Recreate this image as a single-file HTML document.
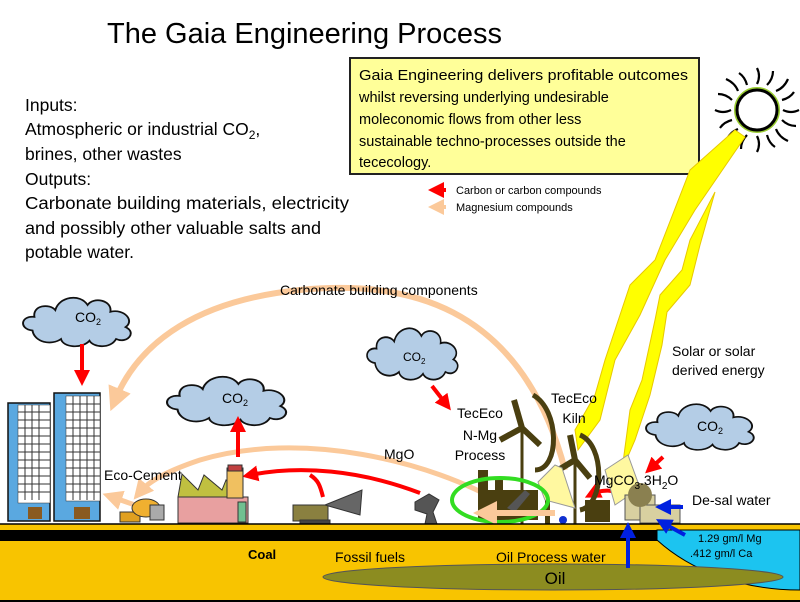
<!DOCTYPE html>
<html><head><meta charset="utf-8"><style>
html,body{margin:0;padding:0;background:#fff;}
svg{display:block;font-family:"Liberation Sans",sans-serif;}
</style></head><body>
<svg width="800" height="602" viewBox="0 0 800 602" xmlns="http://www.w3.org/2000/svg">
<defs>
<marker id="ar" markerWidth="4" markerHeight="4" refX="2" refY="2" orient="auto" markerUnits="strokeWidth"><path d="M0,0L4,2L0,4Z" fill="#f00"/></marker>
<marker id="ap" markerWidth="4" markerHeight="4" refX="2" refY="2" orient="auto" markerUnits="strokeWidth"><path d="M0,0L4,2L0,4Z" fill="#fbc99a"/></marker>
<marker id="ab" markerWidth="4" markerHeight="4" refX="2" refY="2" orient="auto" markerUnits="strokeWidth"><path d="M0,0L4,2L0,4Z" fill="#0020e0"/></marker>
<g id="cloud"><path d="M-50,10 C-65,8 -62,-8 -48,-6 C-50,-20 -32,-22 -26,-14 C-22,-30 0,-34 8,-20 C14,-30 34,-26 32,-12 C46,-16 58,-2 48,6 C60,12 50,26 38,20 C32,32 14,30 10,22 C2,32 -18,30 -20,20 C-30,28 -48,24 -50,10Z" fill="#b4cde6" stroke="#111" stroke-width="2"/></g>
</defs>
<text x="107" y="43" font-size="29" fill="#000">The Gaia Engineering Process</text>
<g font-size="17.5" fill="#000">
<text x="25" y="111">Inputs:</text>
<text x="25" y="135">Atmospheric or industrial CO<tspan font-size="12" dy="4">2</tspan><tspan dy="-4">,</tspan></text>
<text x="25" y="160">brines, other wastes</text>
<text x="25" y="185">Outputs:</text>
<text x="25" y="209" textLength="324" lengthAdjust="spacingAndGlyphs">Carbonate building materials, electricity</text>
<text x="25" y="234" textLength="296" lengthAdjust="spacingAndGlyphs">and possibly other valuable salts and</text>
<text x="25" y="258">potable water.</text>
</g>
<rect x="350" y="58" width="349" height="116" fill="#ffff99" stroke="#222" stroke-width="2"/>
<g font-size="14.5" fill="#000">
<text x="359" y="80" textLength="329" lengthAdjust="spacingAndGlyphs">Gaia Engineering delivers profitable outcomes</text>
<text x="359" y="102">whilst reversing underlying undesirable</text>
<text x="359" y="124">moleconomic flows from other less</text>
<text x="359" y="146">sustainable techno-processes  outside the</text>
<text x="359" y="167">tececology.</text>
</g>
<line x1="446" y1="190" x2="436" y2="190" stroke="#f00" stroke-width="4" marker-end="url(#ar)"/>
<text x="456" y="194" font-size="11">Carbon or carbon compounds</text>
<line x1="446" y1="207" x2="436" y2="207" stroke="#fbc99a" stroke-width="4" marker-end="url(#ap)"/>
<text x="456" y="211" font-size="11">Magnesium compounds</text>
<g transform="translate(757,110)">
<circle r="20" fill="#fff" stroke="#9acd32" stroke-width="6"/>
<circle r="20" fill="#fff" stroke="#000" stroke-width="3"/>
<g stroke="#000" stroke-width="2.2" fill="none">
<path d="M0,-26 q4,-8 0,-16"/><path d="M0,26 q4,8 0,16"/><path d="M-26,0 q-8,4 -16,0"/><path d="M26,0 q8,4 16,0"/>
<path d="M19,-19 q8,-3 12,-12"/><path d="M-19,19 q-8,3 -12,12"/><path d="M-19,-19 q-3,-8 -12,-12"/><path d="M19,19 q3,8 12,12"/>
<path d="M10,-25 q6,-6 6,-14"/><path d="M-10,25 q-6,6 -6,14"/><path d="M-25,-10 q-6,-6 -14,-6"/><path d="M25,10 q6,6 14,6"/>
<path d="M-10,-25 q-2,-8 -8,-12"/><path d="M10,25 q2,8 8,12"/><path d="M25,-10 q8,-2 12,-8"/><path d="M-25,10 q-8,2 -12,8"/>
</g></g>
<path d="M745,137 L735,130 L690,170 L655,260 L630,285 L605,360 L595,395 L575,430 L578,450 L600,420 L615,360 L640,315 L665,260 L695,210 L745,137Z" fill="#ffff00" stroke="#e8c800" stroke-width="1"/>
<path d="M715,192 L690,240 L682,270 L660,295 L655,320 L642,380 L630,410 L622,470 L635,440 L650,395 L662,345 L667,312 L690,285 L700,245 Z" fill="#ffff00" stroke="#e8c800" stroke-width="1"/>
<text x="672" y="356" font-size="14">Solar or solar</text>
<text x="672" y="375" font-size="14">derived energy</text>
<path d="M565,470 C520,300 400,280 300,290 C200,300 140,340 115,400" fill="none" stroke="#fbc99a" stroke-width="6" marker-end="url(#ap)"/>
<text x="280" y="295" font-size="14">Carbonate building components</text>
<path d="M505,505 C430,460 300,430 200,460 C170,470 150,480 140,492" fill="none" stroke="#fbc99a" stroke-width="5" marker-end="url(#ap)"/>
<text x="384" y="459" font-size="14">MgO</text>
<text x="104" y="480" font-size="14">Eco-Cement</text>
<line x1="135" y1="505" x2="112" y2="497" stroke="#fbc99a" stroke-width="5" marker-end="url(#ap)"/>
<use href="#cloud" transform="translate(80,322) scale(0.95,0.85)"/>
<text x="75" y="322" font-size="14">CO<tspan font-size="9" dy="3">2</tspan></text>
<use href="#cloud" transform="translate(230,401) scale(1.05,0.85)"/>
<text x="222" y="403" font-size="14">CO<tspan font-size="9" dy="3">2</tspan></text>
<use href="#cloud" transform="translate(415,354) scale(0.8,0.9)"/>
<text x="403" y="361" font-size="12">CO<tspan font-size="8" dy="3">2</tspan></text>
<use href="#cloud" transform="translate(703,427) scale(0.95,0.8)"/>
<text x="697" y="431" font-size="14">CO<tspan font-size="9" dy="3">2</tspan></text>
<line x1="82" y1="344" x2="82" y2="378" stroke="#f00" stroke-width="4" marker-end="url(#ar)"/>
<line x1="238" y1="457" x2="238" y2="424" stroke="#f00" stroke-width="4" marker-end="url(#ar)"/>
<line x1="432" y1="386" x2="446" y2="404" stroke="#f00" stroke-width="4" marker-end="url(#ar)"/>
<line x1="663" y1="457" x2="651" y2="468" stroke="#f00" stroke-width="4" marker-end="url(#ar)"/>
<path d="M420,493 C360,470 300,465 250,475" fill="none" stroke="#f00" stroke-width="4" marker-end="url(#ar)"/>
<path d="M323,497 C320,485 318,480 310,475" fill="none" stroke="#f00" stroke-width="4"/>
<path d="M627,497 C615,488 600,490 592,494" fill="none" stroke="#f00" stroke-width="4" marker-end="url(#ar)"/>
<line x1="432" y1="565" x2="432" y2="542" stroke="#f00" stroke-width="4" marker-end="url(#ar)"/>
<g>
<rect x="8" y="403" width="42" height="118" fill="#5aa8e0" stroke="#111" stroke-width="1.5"/>
<rect x="18" y="405" width="32" height="98" fill="#fff" stroke="#333" stroke-width="0.5"/>
<rect x="54" y="393" width="46" height="128" fill="#5aa8e0" stroke="#111" stroke-width="1.5"/>
<rect x="66" y="396" width="34" height="105" fill="#fff" stroke="#333" stroke-width="0.5"/>
<g stroke="#333" stroke-width="1">
<path d="M18,412H50M18,420H50M18,428H50M18,436H50M18,444H50M18,452H50M18,460H50M18,468H50M18,476H50M18,484H50M18,492H50"/>
<path d="M66,404H100M66,412H100M66,420H100M66,428H100M66,436H100M66,444H100M66,452H100M66,460H100M66,468H100M66,476H100M66,484H100M66,492H100"/>
<path d="M25,405V500M32,405V500M39,405V500M73,396V500M80,396V500M87,396V500M94,396V500"/>
</g>
<rect x="28" y="507" width="14" height="12" fill="#8a5a20"/><rect x="74" y="507" width="16" height="12" fill="#8a5a20"/>
</g>
<rect x="120" y="512" width="20" height="10" fill="#e0a020" stroke="#333"/>
<ellipse cx="146" cy="508" rx="14" ry="9" fill="#f0b030" stroke="#333"/>
<rect x="150" y="505" width="14" height="15" fill="#aaa" stroke="#333"/>
<g stroke="#333" stroke-width="1">
<rect x="178" y="497" width="70" height="26" fill="#e8a0a0"/>
<path d="M178,497 L182,474 L198,490 L204,475 L222,490 L226,480 L238,497Z" fill="#c0c040"/>
<rect x="227" y="468" width="16" height="30" fill="#f0c060"/>
<rect x="228" y="465" width="14" height="6" fill="#c04040"/>
<rect x="238" y="502" width="8" height="20" fill="#70c090"/>
</g>
<g stroke="#333" stroke-width="1">
<rect x="293" y="505" width="35" height="16" fill="#8a8040"/>
<path d="M325,505 L362,490 L360,515Z" fill="#666"/>
<rect x="300" y="520" width="30" height="6" fill="#444"/>
</g>
<path d="M415,502 l14,-8 l10,6 l-6,12 l4,12 l-12,0 l2,-10 l-12,-4Z" fill="#555" stroke="#333"/>
<g stroke="#4a3f10" fill="#4a3f10">
<line x1="522" y1="428" x2="522" y2="525" stroke-width="3"/>
<path d="M522,428 L514,400 M522,428 L500,440 M522,428 L540,445" stroke-width="6" fill="none"/>
<path d="M533,395 C560,410 560,470 535,470" fill="none" stroke-width="5"/>
<line x1="575" y1="460" x2="575" y2="525" stroke-width="3"/>
<path d="M575,460 L570,435 M575,460 L555,472 M575,460 L590,478" stroke-width="6" fill="none"/>
<path d="M580,435 C605,445 605,505 580,510" fill="none" stroke-width="5"/>
<rect x="478" y="490" width="60" height="30" stroke="none"/>
<rect x="478" y="470" width="10" height="22" stroke="none"/>
<rect x="495" y="478" width="8" height="14" stroke="none"/>
<rect x="545" y="480" width="5" height="45" stroke="none"/>
<rect x="585" y="500" width="25" height="22" stroke="none"/>
</g>
<path d="M538,482 L555,465 L562,468 L575,508 L545,500Z" fill="#fff8a0" stroke="#999" stroke-width="1"/>
<path d="M605,470 L628,455 L640,488 L615,505Z" fill="#fff8a0" stroke="#999" stroke-width="1"/>
<path d="M507,508 L525,490 L530,494 L515,512Z" fill="#555"/>
<rect x="625" y="495" width="30" height="25" fill="#d8d0a0" stroke="#555"/>
<rect x="640" y="505" width="40" height="18" fill="#d8d0a0" stroke="#555"/>
<circle cx="640" cy="495" r="12" fill="#8a8050"/>
<ellipse cx="500" cy="500" rx="48" ry="22" fill="none" stroke="#33dd22" stroke-width="4"/>
<line x1="555" y1="513" x2="485" y2="513" stroke="#fbc99a" stroke-width="6" marker-end="url(#ap)"/>
<circle cx="563" cy="520" r="4" fill="#1030d0"/>
<g font-size="14" text-anchor="middle">
<text x="480" y="418">TecEco</text><text x="480" y="440">N-Mg</text><text x="480" y="460">Process</text>
<text x="574" y="403">TecEco</text><text x="574" y="423">Kiln</text>
</g>
<text x="594" y="485" font-size="14">MgCO<tspan font-size="10" dy="4">3</tspan><tspan dy="-4">.3H</tspan><tspan font-size="10" dy="4">2</tspan><tspan dy="-4">O</tspan></text>
<text x="692" y="505" font-size="14">De-sal water</text>
<rect x="0" y="524" width="800" height="78" fill="#f8c400"/>
<rect x="0" y="530" width="800" height="11" fill="#000"/>
<line x1="0" y1="524" x2="800" y2="524" stroke="#000" stroke-width="1.5"/>
<path d="M657,540 C690,570 740,590 800,590 L800,530 L657,530Z" fill="#1cc4f0" stroke="#000" stroke-width="1"/>
<path d="M0,601 L800,601" stroke="#000" stroke-width="2"/>
<ellipse cx="553" cy="577" rx="230" ry="13" fill="#8c8c20" stroke="#555" stroke-width="1"/>
<text x="555" y="584" font-size="17" text-anchor="middle">Oil</text>
<text x="248" y="559" font-size="13" font-weight="bold">Coal</text>
<text x="335" y="562" font-size="14">Fossil fuels</text>
<text x="496" y="562" font-size="14">Oil Process water</text>
<text x="698" y="542" font-size="11">1.29 gm/l Mg</text>
<text x="690" y="557" font-size="11">.412 gm/l Ca</text>
<line x1="628" y1="568" x2="628" y2="530" stroke="#0020e0" stroke-width="4" marker-end="url(#ab)"/>
<line x1="683" y1="507" x2="663" y2="507" stroke="#0020e0" stroke-width="4" marker-end="url(#ab)"/>
<line x1="685" y1="535" x2="663" y2="523" stroke="#0020e0" stroke-width="4" marker-end="url(#ab)"/>
</svg>
</body></html>
